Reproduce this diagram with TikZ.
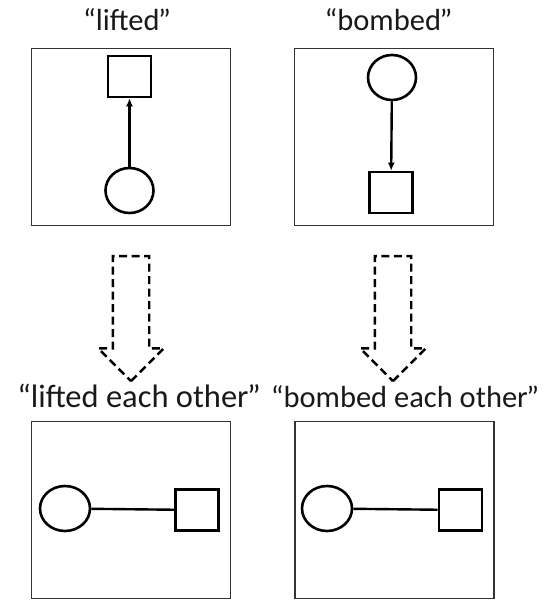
\documentclass[tikz,border=0pt]{standalone}
\usepackage{fontspec}
\setmainfont{Carlito}
\usetikzlibrary{shapes.geometric,shapes.arrows,arrows.meta}
\newcommand{\said}[1]{“#1\kern-1.5pt”}
\begin{document}
\begin{tikzpicture}[x=1pt, y=-1pt,
  panel/.style={draw=black!80, line width=1.5pt, minimum width=199pt, minimum height=177pt, inner sep=0pt},
  blob/.style={ellipse, draw=black, line width=2.6pt, minimum width=48pt, minimum height=45pt, inner sep=0pt},
  token/.style={rectangle, draw=black, line width=2.6pt, minimum width=43pt, minimum height=41pt, inner sep=0pt},
  verb/.style={anchor=base, font=\fontsize{30.5}{36}\selectfont, text=black!90},
  bigdown/.style={single arrow, draw=black, line width=2.4pt, dash pattern=on 8pt off 4.5pt,
    rotate=-90, minimum height=125pt, inner xsep=0pt, inner ysep=17pt, single arrow head extend=14.5pt}]
\useasboundingbox (0,0) rectangle (546,601);
% top row
\node [verb] (lift) at (127,31) {\said{lifted}};
\node [verb] (bomb) at (388.5,31) {\said{bombed}};
\node [panel] (liftpanel) at (131,137) {};
\node [panel] (bombpanel) at (394,137) {};
\node [token] (liftsq) at (129.5,76.5) {};
\node [blob] (liftci) at (129.5,190.5) {};
\draw [line width=2.4pt, -{Latex[length=8pt, width=7pt]}] (liftci) -- (liftsq);
\node [blob] (bombci) at (392,77.5) {};
\node [token] (bombsq) at (391,192.5) {};
\draw [line width=2.4pt, -{Latex[length=8pt, width=7pt]}] (bombci) -- (bombsq);
% dashed block arrows
\node [bigdown] (liftdown) at (131,309.5) {};
\node [bigdown] (bombdown) at (393,309.5) {};
% bottom row
\node [verb, font=\fontsize{32.5}{38}\selectfont] (lifteach) at (139,407.5) {\said{lifted each other}};
\node [verb] (bombeach) at (405,407.5) {\said{bombed each other}};
\node [panel] (lifteachpanel) at (131,510) {};
\node [panel] (bombeachpanel) at (394.5,510) {};
\node [blob, minimum width=50pt] (lifteachci) at (65,508.5) {};
\node [token] (lifteachsq) at (197,510) {};
\draw [line width=2.4pt] (lifteachci) -- (lifteachsq);
\node [blob, minimum width=50pt] (bombeachci) at (327,508.5) {};
\node [token] (bombeachsq) at (460.5,510) {};
\draw [line width=2.4pt] (bombeachci) -- (bombeachsq);
\end{tikzpicture}
\end{document}
